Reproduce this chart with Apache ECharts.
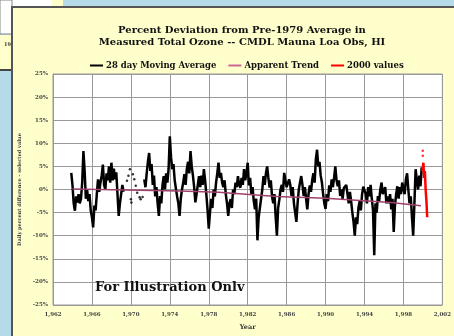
<!DOCTYPE html>
<html><head><meta charset="utf-8">
<script src="https://cdn.jsdelivr.net/npm/echarts@6/dist/echarts.min.js"></script>
<style>html,body{margin:0;padding:0;background:#b5dbe8;}#c{width:454px;height:336px;}</style>
</head><body><div id="c"></div>
<script>
// ---- data ----
var titleLines = ['Percent Deviation from Pre-1979 Average in', 'Measured Total Ozone -- CMDL Mauna Loa Obs, HI'];
var seriesNames = ['28 day Moving Average', 'Apparent Trend', '2000 values'];
var xTicks = [1962, 2002, 4];
var yTicks = [-25, 25, 5];

// 28 day moving average, sampled every 1/8 year starting 1963.875 ('-' = gap)
var maStart = 1963.875, maStep = 0.125;
var maValues = [
 3.6,
 1.0,-3.0,-4.6,-1.5,-2.8,-1.0,-3.0,-2.0,
 1.5, 8.3, 4.0,-2.0, 0.0,-2.5,-1.0,-4.5,
 -6.0,-8.2,-3.5,-4.5,-1.0, 2.2,-0.5, 1.5,
 3.0, 5.4, 1.0, 0.0, 3.5, 2.0, 5.0, 1.5,
 5.8, 2.0, 4.5, 2.2, 3.7,-1.0,-5.7,-3.0,
 -1.0, 1.0,-0.5,'-','-','-','-','-',
 '-','-','-','-','-','-','-','-',
 '-','-','-', 2.2, 0.5, 3.5, 6.0, 7.9,
 4.0, 5.5, 1.0, 3.0,-1.5, 0.5,-3.0,-5.7,
 -1.4,-3.0, 1.0, 2.9, 0.0, 3.5, 1.5, 4.5,
 11.5, 7.0, 4.4, 5.5, 2.0, 0.2,-1.5,-3.0,
 -5.7,-2.0, 0.0, 1.5, 3.3, 1.0, 4.5, 6.0,
 3.5, 8.3, 5.0, 3.0, 0.5,-2.8,-1.0, 1.0,
 2.9, 0.5, 3.0, 1.0, 4.4, 2.0,-1.0,-4.3,
 -8.5,-5.0,-2.0,-4.0, 0.0,-1.5, 1.5, 3.5,
 5.8, 2.5, 3.6, 1.5, 0.5, 2.0,-1.0,-3.0,
 -5.7,-3.0,-2.1,-4.0, 0.0,-1.0, 1.5, 0.5,
 2.9, 1.0, 0.4, 2.5, 1.0, 4.4, 2.0, 3.5,
 5.8, 0.9, 2.5,-1.0, 0.5,-2.5,-4.3,-2.0,
 -11.0,-6.0,-5.7,-2.0, 0.0, 2.9, 1.0, 3.5,
 5.0, 2.5, 0.4, 2.0,-1.5,-3.0,-1.0,-6.0,
 -10.0,-4.0,-2.2, 0.0, 1.0,-0.5, 3.6, 2.0,
 0.5, 0.7, 2.2, 1.0,-1.4, 0.5,-3.0,-5.0,
 -7.0,-3.0, 0.0, 1.5, 2.9, 1.0,-1.4, 0.5,
 -2.0,-4.3,-1.0, 0.9,-0.5, 2.0, 3.5, 1.5,
 6.5, 8.6, 5.0, 6.0, 3.0, 1.5,-1.0,-3.0,
 -4.2,-1.0,-2.5, 0.9,-0.5, 2.2, 0.5, 2.5,
 5.0, 2.0, 0.7, 2.0,-1.4, 0.0,-2.0, 0.3,
 0.3, 1.0,-1.0,-3.0,-0.5,-2.5,-5.0,-7.0,
 -10.0,-6.0,-7.5,-4.0,-2.5,-4.5,-1.0, 0.6,
 0.6,-1.0,-3.0, 0.5,-1.5, 1.0,-2.0,-4.5,
 -14.2,-3.0,-5.0,-1.4,-2.5, 0.0, 1.5,-1.0,
 -0.7, 0.5,-3.0,-1.5,-3.0,-1.0,-4.3,-2.0,
 -9.2,-3.5,-1.0, 0.7,-2.0, 0.5,-1.0, 1.5,
 1.5,-1.0, 2.2, 3.5, 0.0,-3.0,-1.5,-6.0,
 -10.0,-3.0, 4.4, 2.0, 0.0, 3.0, 0.7, 4.8
];
// sparse (dotted) period
var sparseYears  = [1969.6, 1969.75, 1969.9, 1970.0, 1970.05, 1970.2, 1970.35, 1970.5, 1970.65, 1970.9, 1971.0, 1971.2];
var sparseValues = [1.9, 3.0, 4.4, -2.1, -2.8, 3.3, 2.2, 0.8, -0.7, -1.7, -2.1, -1.6];
// apparent trend
var trendYears  = [1964, 1975, 1979, 1985, 1990, 1996.7, 1999.8];
var trendValues = [0.1, -0.3, -0.6, -1.5, -1.9, -2.8, -3.5];
// 2000 values
var y2kYears  = [1999.95, 2000.05, 2000.12, 2000.2, 2000.28, 2000.36, 2000.44];
var y2kValues = [4.0, 5.8, 2.5, 4.0, 0.0, -2.5, -6.0];
var y2kDotYears = [1999.98, 1999.99];
var y2kDotValues = [8.4, 7.3];

// ---- build ----
var serif = 'DejaVu Serif';
function pairs(xs, ys){ return xs.map(function(x,i){ return [x, ys[i]]; }); }
var maData = maValues.map(function(v,i){ return [maStart + i*maStep, v]; });

var chart = echarts.init(document.getElementById('c'), null, {renderer:'canvas'});
chart.setOption({
  animation: false,
  backgroundColor: 'transparent',
  graphic: [
    {type:'rect', shape:{x:0,y:0,width:52,height:8}, style:{fill:'#ffffff'}, z:-10},
    {type:'rect', shape:{x:52,y:0,width:11,height:8}, style:{fill:'#ffffcc'}, z:-10},
    {type:'rect', shape:{x:0,y:0,width:12,height:34}, style:{fill:'#ffffff', stroke:'#888', lineWidth:1}, z:-10},
    {type:'rect', shape:{x:0,y:35,width:12,height:35}, style:{fill:'#ffffcc'}, z:-10},
    {type:'rect', shape:{x:0,y:69,width:12,height:2}, style:{fill:'#444'}, z:-10},
    {type:'text', style:{text:'19', x:4, y:42, font:'bold 5px "DejaVu Serif"', fill:'#333'}, z:-9},
    {type:'rect', shape:{x:12,y:7,width:450,height:340}, style:{fill:'#ffffcc', stroke:'#555', lineWidth:2}, z:-8},
    {type:'text', style:{text:'For Illustration Onlv', x:95, y:288, verticalAlign:'middle', font:'bold 13px "DejaVu Serif"', fill:'#111'}, z:100}
  ],
  title: {
    text: titleLines.join('\n'),
    left: 237, top: 19, textAlign: 'center',
    textStyle: {fontFamily: serif, fontWeight: 'bold', fontSize: 10, lineHeight: 12.5, color: '#111'}
  },
  legend: {
    data: seriesNames,
    top: 56, left: 85,
    icon: 'rect', itemWidth: 13, itemHeight: 2, itemGap: 12,
    textStyle: {fontFamily: serif, fontWeight: 'bold', fontSize: 8.5, color: '#111', padding:[0,0,0,-2]}
  },
  grid: {left: 53, right: 9, top: 74, bottom: 29.3, show: true, backgroundColor: '#ffffff', borderColor: '#999', borderWidth: 1},
  xAxis: {
    type: 'value', min: xTicks[0], max: xTicks[1], interval: xTicks[2],
    name: 'Year', nameLocation: 'middle', nameGap: 19,
    nameTextStyle: {fontFamily: serif, fontWeight: 'bold', fontSize: 6.5, color: '#333'},
    axisLine: {lineStyle: {color: '#999'}},
    axisTick: {show: false},
    axisLabel: {fontFamily: serif, fontWeight: 'bold', fontSize: 5.5, color: '#444', margin: 7},
    splitLine: {show: true, lineStyle: {color: '#999', width: 1}}
  },
  yAxis: {
    type: 'value', min: yTicks[0], max: yTicks[1], interval: yTicks[2],
    name: 'Daily percent difference - selected value', nameLocation: 'middle', nameGap: 29,
    nameTextStyle: {fontFamily: serif, fontWeight: 'bold', fontSize: 5, color: '#444'},
    axisLine: {show: true, lineStyle: {color: '#999'}},
    axisTick: {show: false},
    axisLabel: {fontFamily: serif, fontWeight: 'bold', fontSize: 5.5, color: '#444', margin: 5, formatter: '{value}%'},
    splitLine: {show: true, lineStyle: {color: '#999', width: 1}}
  },
  series: [
    {name: seriesNames[0], type: 'line', data: maData, showSymbol: false, symbol: 'none',
     lineStyle: {color: '#000', width: 2.5}, itemStyle: {color: '#000'}, z: 3},
    {name: 'sparse', type: 'scatter', data: pairs(sparseYears, sparseValues), symbolSize: 2.5,
     itemStyle: {color: '#000'}, z: 3},
    {name: seriesNames[1], type: 'line', data: pairs(trendYears, trendValues), showSymbol: false, symbol: 'none',
     lineStyle: {color: '#a0406e', width: 1.5}, itemStyle: {color: '#cc6699'}, z: 4},
    {name: seriesNames[2], type: 'line', data: pairs(y2kYears, y2kValues), showSymbol: false, symbol: 'none',
     lineStyle: {color: '#ff0000', width: 2.5}, itemStyle: {color: '#ff0000'}, z: 5},
    {name: 'y2kdots', type: 'scatter', data: pairs(y2kDotYears, y2kDotValues), symbolSize: 2.5,
     itemStyle: {color: '#ff0000'}, z: 5}
  ]
});
</script></body></html>
